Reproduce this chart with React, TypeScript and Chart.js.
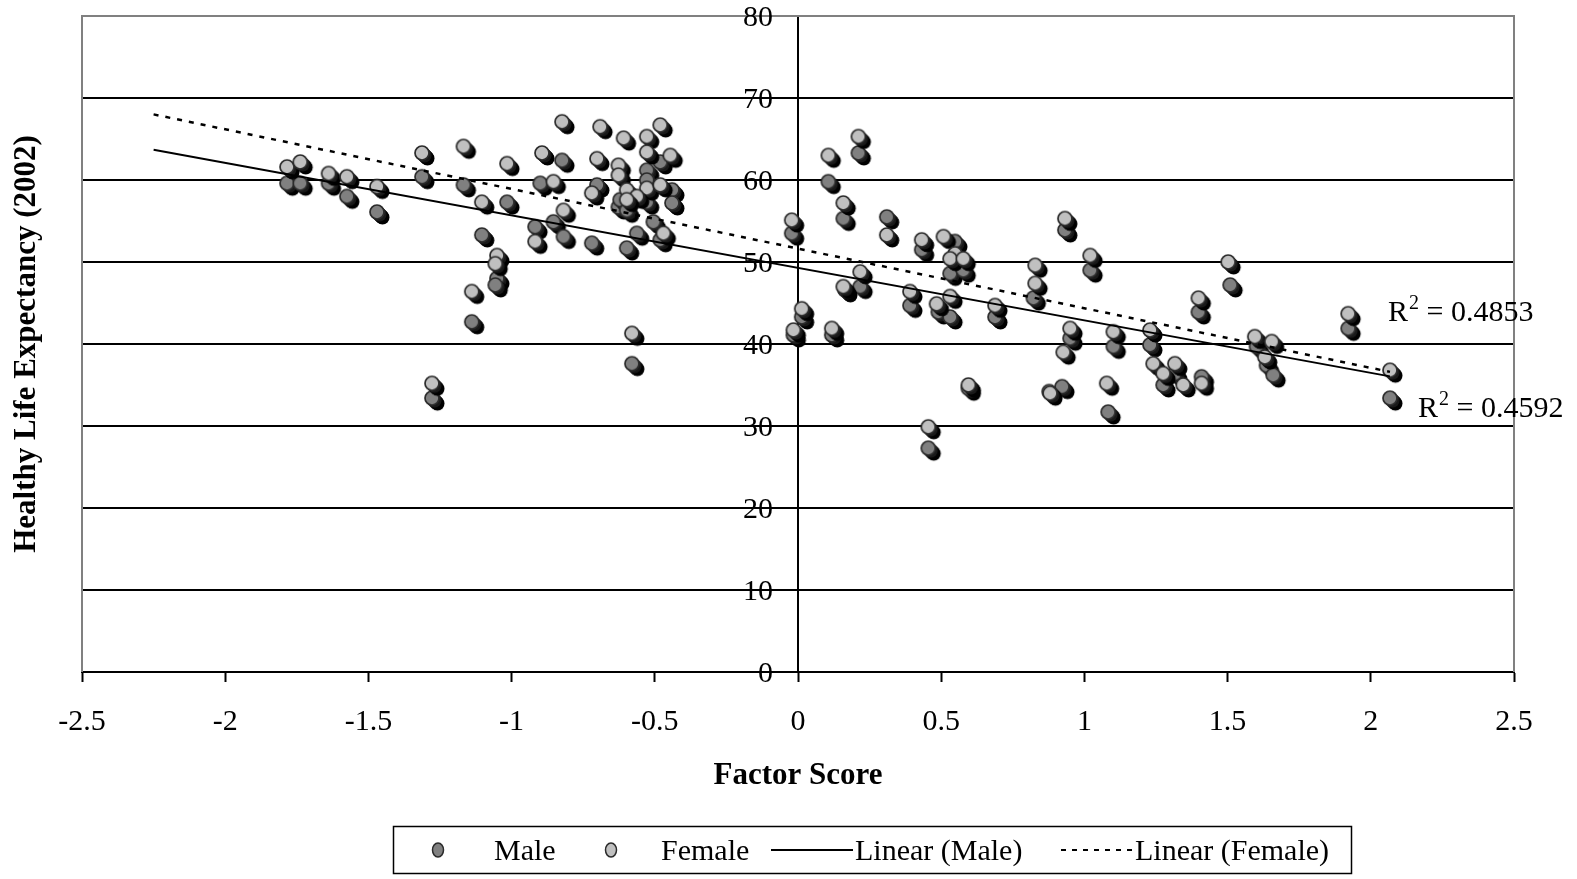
import React, { useEffect, useRef } from 'react';
import { Chart, registerables } from 'chart.js';

Chart.register(...registerables);

// ---- data ----
const maleX = [
  -1.784, -1.738, -1.639, -1.575, -1.470, -1.313, -1.168, -1.104, -1.016, -1.051, -1.057, -1.139, -1.278,
  -0.900, -0.824, -0.854, -0.918, -0.819, -0.720, -0.702, -0.481, -0.528, -0.528, -0.440, -0.627, -0.621,
  -0.598, -0.528, -0.440, -0.505, -0.563, -0.481, -0.598, -0.580,
  -0.022, 0.106, 0.211, 0.158, 0.310, 0.432, 0.548, 0.531, 0.577, 0.217, 0.164, 0.391, 0.490, 0.531, 0.688,
  0.013, -0.016, 0.118, 0.822, 0.595, 0.455, 0.932, 1.020, 1.509, 1.398, 1.921, 0.950, 0.922, 0.877, 1.101,
  1.083, 1.229, 1.275, 1.316, 1.409, 1.636, 1.659, 1.601, 2.067,
];
const maleY = [
  59.6, 59.6, 59.6, 58.0, 56.1, 60.4, 59.4, 53.3, 57.3, 48.0, 47.2, 42.7, 33.4,
  59.6, 62.4, 54.9, 54.3, 53.1, 52.3, 59.4, 62.2, 61.2, 60.0, 58.8, 56.7, 57.6,
  56.3, 57.3, 57.2, 54.9, 53.5, 52.7, 51.7, 37.6,
  53.5, 59.8, 63.3, 55.3, 55.5, 51.5, 52.5, 48.6, 49.0, 47.0, 46.6, 44.7, 43.9, 43.3, 43.3,
  43.3, 41.1, 41.1, 45.6, 34.6, 27.3, 53.9, 49.0, 47.2, 43.9, 41.9, 40.7, 34.8, 34.2, 39.7,
  31.7, 39.9, 35.0, 36.4, 36.0, 37.4, 36.2, 39.7, 33.4,
];
const femaleX = [
  -1.784, -1.738, -1.639, -1.575, -1.470, -1.313, -1.168, -1.104, -1.016, -1.051, -1.057, -1.139, -1.278,
  -0.894, -0.854, -0.824, -0.918, -0.819, -0.691, -0.702, -0.720, -0.609, -0.627, -0.627, -0.528, -0.481,
  -0.528, -0.446, -0.528, -0.481, -0.598, -0.563, -0.598, -0.470, -0.580,
  -0.022, 0.106, 0.211, 0.158, 0.310, 0.432, 0.508, 0.548, 0.531, 0.577, 0.217, 0.158, 0.391, 0.484, 0.531,
  0.688, 0.013, -0.016, 0.118, 0.828, 0.828, 0.595, 0.455, 0.932, 1.020, 1.502, 1.398, 1.921, 0.950, 0.926,
  0.880, 1.101, 1.078, 1.229, 1.240, 1.275, 1.316, 1.345, 1.409, 1.595, 1.654, 1.630, 2.067,
];
const femaleY = [
  61.6, 62.2, 60.8, 60.4, 59.2, 63.3, 64.1, 57.3, 62.0, 50.8, 49.8, 46.4, 35.2,
  63.3, 59.8, 67.1, 52.5, 56.3, 66.5, 62.6, 58.4, 65.1, 61.8, 60.6, 65.3, 66.7,
  63.4, 63.0, 59.0, 59.4, 58.8, 58.0, 57.6, 53.5, 41.3,
  55.1, 63.0, 65.3, 57.2, 53.3, 52.7, 53.1, 51.0, 50.4, 50.4, 48.8, 47.0, 46.4, 44.9, 45.8,
  44.7, 44.3, 41.7, 41.9, 49.6, 47.4, 35.0, 29.9, 55.3, 50.8, 50.0, 45.6, 43.7, 41.9, 39.0,
  34.0, 41.5, 35.2, 41.7, 37.6, 36.4, 37.6, 35.0, 35.2, 40.9, 40.3, 38.4, 36.8,
];
const trendX = [-2.25, 2.067];
const maleTrendY = [63.7, 36.05];
const femaleTrendY = [68.0, 36.6];
const xTicks = [-2.5, -2, -1.5, -1, -0.5, 0, 0.5, 1, 1.5, 2, 2.5];
const yTicks = [0, 10, 20, 30, 40, 50, 60, 70, 80];
const r2Values = ['0.4853', '0.4592'];
const legendLabels = ['Male', 'Female', 'Linear (Male)', 'Linear (Female)'];
const xTitle = 'Factor Score';
const yTitle = 'Healthy Life Expectancy (2002)';

const MALE_FILL = '#808080';
const FEMALE_FILL = '#c0c0c0';
const SERIF = '"Liberation Serif", "Times New Roman", serif';

function makeMarker(fill: string): HTMLCanvasElement {
  const c = document.createElement('canvas');
  const S = 32;
  c.width = S;
  c.height = S;
  const g = c.getContext('2d') as CanvasRenderingContext2D;
  const cx = S / 2;
  const cy = S / 2;
  const r = 7;
  const d = 5.5;
  for (let i = d; i >= 0.5; i -= 0.5) {
    g.beginPath();
    g.arc(cx + i, cy + i, r, 0, Math.PI * 2);
    g.fillStyle = i > 2.5 ? '#000000' : '#1a1a1a';
    g.fill();
  }
  g.beginPath();
  g.arc(cx, cy, r, 0, Math.PI * 2);
  g.fillStyle = fill;
  g.fill();
  g.lineWidth = 1.7;
  g.strokeStyle = '#2b2b2b';
  g.stroke();
  return c;
}

const pts = (xs: number[], ys: number[]) => xs.map((x, i) => ({ x, y: ys[i] }));

const decorPlugin = {
  id: 'decor',
  beforeDatasetsDraw(chart: any) {
    const { ctx, chartArea } = chart;
    ctx.save();
    ctx.strokeStyle = '#808080';
    ctx.lineWidth = 2;
    ctx.beginPath();
    ctx.moveTo(chartArea.left, chartArea.bottom);
    ctx.lineTo(chartArea.left, chartArea.top);
    ctx.lineTo(chartArea.right, chartArea.top);
    ctx.lineTo(chartArea.right, chartArea.bottom);
    ctx.stroke();
    ctx.restore();
  },
  afterDraw(chart: any) {
    const { ctx, chartArea, scales } = chart;
    ctx.save();
    ctx.fillStyle = '#000';

    // y tick labels, left of the axis at x = 0
    const axisX = scales.x.getPixelForValue(0);
    ctx.font = `30px ${SERIF}`;
    ctx.textAlign = 'right';
    ctx.textBaseline = 'middle';
    yTicks.forEach((v) => {
      ctx.fillText(String(v), axisX - 25, scales.y.getPixelForValue(v) + 2);
    });

    // axis titles
    ctx.font = `bold 31px ${SERIF}`;
    ctx.textAlign = 'center';
    ctx.textBaseline = 'alphabetic';
    ctx.fillText(xTitle, (chartArea.left + chartArea.right) / 2, 784);
    ctx.save();
    ctx.translate(35, (chartArea.top + chartArea.bottom) / 2);
    ctx.rotate(-Math.PI / 2);
    ctx.fillText(yTitle, 0, 0);
    ctx.restore();

    // R^2 labels
    const drawR2 = (x: number, y: number, val: string) => {
      ctx.textAlign = 'left';
      ctx.font = `30px ${SERIF}`;
      ctx.fillText('R', x, y);
      const w = ctx.measureText('R').width;
      ctx.font = `20px ${SERIF}`;
      ctx.fillText('2', x + w + 1, y - 12);
      const w2 = ctx.measureText('2').width;
      ctx.font = `30px ${SERIF}`;
      ctx.fillText(' = ' + val, x + w + w2 + 1, y);
    };
    drawR2(1388, 321, r2Values[0]);
    drawR2(1418, 417, r2Values[1]);

    // legend
    ctx.lineWidth = 1.5;
    ctx.strokeStyle = '#000';
    ctx.strokeRect(393.5, 826.5, 958, 47);
    const cy = 850;
    const dot = (x: number, fill: string) => {
      ctx.beginPath();
      ctx.ellipse(x, cy, 5.5, 7, 0, 0, Math.PI * 2);
      ctx.fillStyle = fill;
      ctx.fill();
      ctx.lineWidth = 1.5;
      ctx.strokeStyle = '#2b2b2b';
      ctx.stroke();
    };
    dot(438, MALE_FILL);
    dot(611, FEMALE_FILL);
    ctx.fillStyle = '#000';
    ctx.font = `30px ${SERIF}`;
    ctx.textAlign = 'left';
    ctx.fillText(legendLabels[0], 494, 860);
    ctx.fillText(legendLabels[1], 661, 860);
    ctx.fillText(legendLabels[2], 855, 860);
    ctx.fillText(legendLabels[3], 1135, 860);
    ctx.strokeStyle = '#000';
    ctx.lineWidth = 2;
    ctx.beginPath();
    ctx.moveTo(771, cy);
    ctx.lineTo(853, cy);
    ctx.stroke();
    ctx.setLineDash([5, 6]);
    ctx.beginPath();
    ctx.moveTo(1061, cy);
    ctx.lineTo(1133, cy);
    ctx.stroke();
    ctx.setLineDash([]);
    ctx.restore();
  },
};

export default function App() {
  const ref = useRef<HTMLCanvasElement | null>(null);
  useEffect(() => {
    document.body.style.margin = '0';
    const canvas = ref.current;
    if (!canvas) return;
    const maleMarker = makeMarker(MALE_FILL);
    const femaleMarker = makeMarker(FEMALE_FILL);
    const chart = new Chart(canvas, {
      type: 'scatter',
      data: {
        datasets: [
          {
            label: legendLabels[2],
            data: pts(trendX, maleTrendY),
            showLine: true,
            borderColor: '#000',
            borderWidth: 2,
            pointRadius: 0,
            order: 0,
          } as any,
          {
            label: legendLabels[3],
            data: pts(trendX, femaleTrendY),
            showLine: true,
            borderColor: '#000',
            borderWidth: 2.5,
            borderDash: [5, 7],
            pointRadius: 0,
            order: 1,
          } as any,
          {
            label: legendLabels[1],
            data: pts(femaleX, femaleY),
            pointStyle: femaleMarker,
            pointRadius: 7,
            order: 2,
          } as any,
          {
            label: legendLabels[0],
            data: pts(maleX, maleY),
            pointStyle: maleMarker,
            pointRadius: 7,
            order: 3,
          } as any,
        ],
      },
      options: {
        responsive: false,
        animation: false,
        devicePixelRatio: 1,
        layout: { padding: { left: 82, right: 63, top: 16, bottom: 0 } },
        plugins: { legend: { display: false }, tooltip: { enabled: false } },
        scales: {
          x: {
            type: 'linear',
            min: -2.5,
            max: 2.5,
            afterBuildTicks: (s: any) => {
              s.ticks = xTicks.map((v) => ({ value: v }));
            },
            afterFit: (s: any) => {
              s.height = 207;
              s.paddingLeft = 0;
              s.paddingRight = 0;
            },
            ticks: {
              color: '#000',
              font: { family: SERIF, size: 30 },
              padding: 22,
              maxRotation: 0,
              autoSkip: false,
              callback: (v: any) => String(v),
            },
            grid: {
              drawOnChartArea: false,
              drawTicks: true,
              tickLength: 10,
              tickColor: '#000',
              tickWidth: 2,
            },
            border: { display: true, color: '#000', width: 2 },
          },
          y: {
            type: 'linear',
            min: 0,
            max: 80,
            position: { x: 0 } as any,
            afterBuildTicks: (s: any) => {
              s.ticks = yTicks.map((v) => ({ value: v }));
            },
            afterFit: (s: any) => {
              s.paddingTop = 0;
              s.paddingBottom = 0;
            },
            ticks: {
              display: false,
            },
            grid: {
              color: (c: any) => (c.tick && c.tick.value === 80 ? '#808080' : '#000'),
              lineWidth: 2,
              drawTicks: true,
              tickLength: 10,
              tickColor: '#000',
              tickWidth: 2,
            },
            border: { display: true, color: '#000', width: 2 },
          },
        },
      },
      plugins: [decorPlugin],
    });
    return () => chart.destroy();
  }, []);
  return (
    <div style={{ width: 1577, height: 879 }}>
      <canvas ref={ref} width={1577} height={879} style={{ display: 'block' }} />
    </div>
  );
}
